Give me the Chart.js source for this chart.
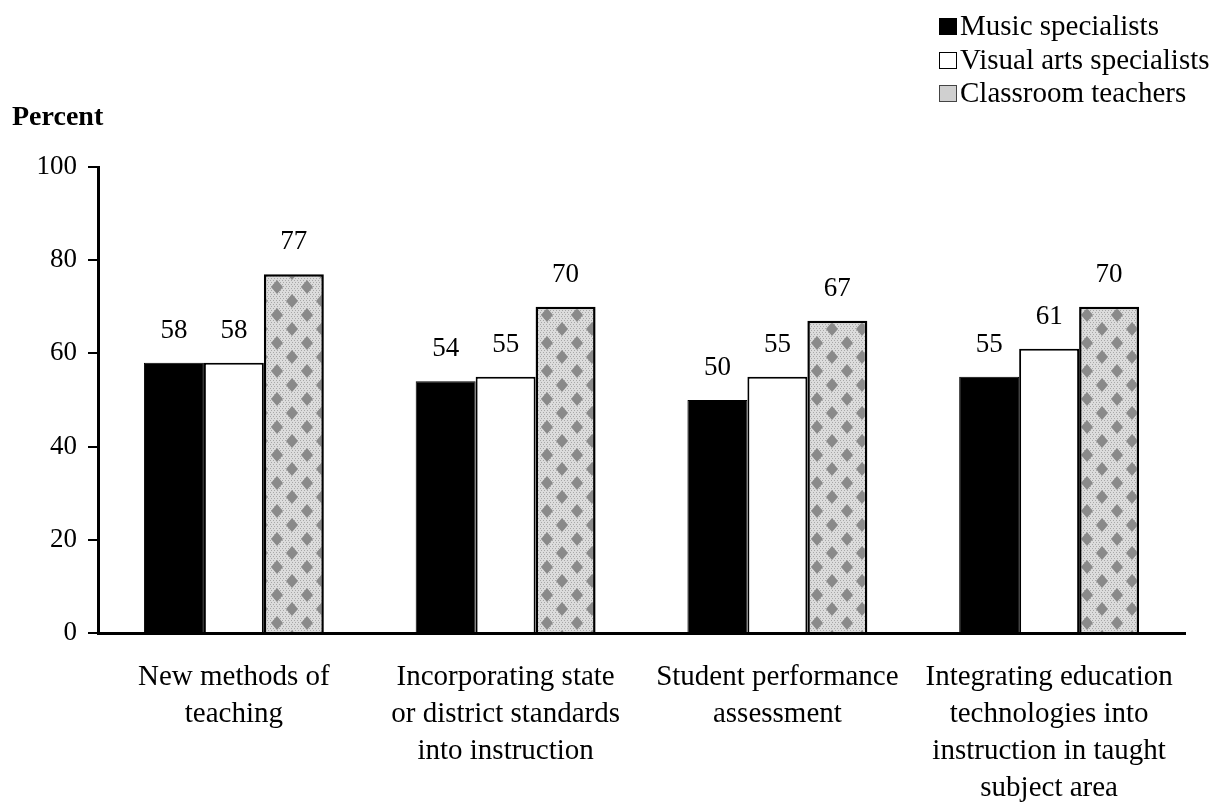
<!DOCTYPE html>
<html>
<head>
<meta charset="utf-8">
<script src="https://cdn.jsdelivr.net/npm/chart.js@4/dist/chart.umd.min.js"></script>
<style>
    html, body { margin: 0; padding: 0; background: #fff; }
    #wrap { position: relative; width: 1224px; height: 802px; font-family: "Liberation Serif", "Times New Roman", serif; color: #000; }
    #chart { position: absolute; left: 0; top: 0; }
    .yTitle { position: absolute; left: 12px; top: 99px; font-size: 28px; font-weight: bold; line-height: 33.5px; }
    .legend { position: absolute; left: 939px; top: 9px; font-size: 29px; line-height: 33.5px; }
    .legend div { white-space: nowrap; }
    .swatch { display: inline-block; width: 18px; height: 17px; margin-right: 3px; box-sizing: border-box; }
    .sw-music { background: #000; }
    .sw-visual { background: #fff; border: 1px solid #000; }
    .sw-class { background: #d0d0d0; border: 1px solid #444; }
</style>
</head>
<body>
<div id="wrap">
    <canvas id="chart" width="1224" height="802"></canvas>
    <div class="yTitle">Percent</div>
    <div class="legend">
        <div><span class="swatch sw-music"></span>Music specialists</div>
        <div><span class="swatch sw-visual"></span>Visual arts specialists</div>
        <div><span class="swatch sw-class"></span>Classroom teachers</div>
    </div>
</div>
<script>
// Chart data
const categories = [
    ['New methods of', 'teaching'],
    ['Incorporating state', 'or district standards', 'into instruction'],
    ['Student performance', 'assessment'],
    ['Integrating education', 'technologies into', 'instruction in taught', 'subject area']
];
const musicSpecialists = [58, 54, 50, 55];
const visualArtsSpecialists = [58, 55, 55, 61];
const classroomTeachers = [77, 70, 67, 70];
const yTicks = [0, 20, 40, 60, 80, 100];

const FONT = '"Liberation Serif", "Times New Roman", serif';

// Grey stippled fill for the classroom teachers bars
function makeStipple() {
    const c = document.createElement('canvas');
    c.width = 30;
    c.height = 28;
    const g = c.getContext('2d');
    g.fillStyle = '#dcdcdc';
    g.fillRect(0, 0, 30, 28);
    // fine dither
    g.fillStyle = '#a8a8a8';
    for (let y = 0; y < 28; y += 2) {
        for (let x = (y / 2) % 2; x < 30; x += 3) {
            g.fillRect(x, y, 1, 1);
        }
    }
    // diamond blobs
    g.fillStyle = '#8a8a8a';
    const blobs = [[7, 7], [22, 21]];
    blobs.forEach(([cx, cy]) => {
        g.beginPath();
        g.moveTo(cx, cy - 7);
        g.lineTo(cx + 6, cy);
        g.lineTo(cx, cy + 7);
        g.lineTo(cx - 6, cy);
        g.closePath();
        g.fill();
    });
    const ctx = document.getElementById('chart').getContext('2d');
    return ctx.createPattern(c, 'repeat');
}

// Value labels above each bar
const barValueLabels = {
    id: 'barValueLabels',
    afterDatasetsDraw(chart) {
        const ctx = chart.ctx;
        ctx.save();
        ctx.font = '27px ' + FONT;
        ctx.fillStyle = '#000';
        ctx.textAlign = 'center';
        ctx.textBaseline = 'alphabetic';
        chart.data.datasets.forEach((ds, i) => {
            chart.getDatasetMeta(i).data.forEach((bar, j) => {
                ctx.fillText(String(ds.data[j]), bar.x, bar.y - 25);
            });
        });
        ctx.restore();
    }
};

new Chart(document.getElementById('chart'), {
    type: 'bar',
    data: {
        labels: categories,
        datasets: [
            {
                label: 'Music specialists',
                data: musicSpecialists,
                backgroundColor: '#000',
                borderColor: '#000',
                borderWidth: 1
            },
            {
                label: 'Visual arts specialists',
                data: visualArtsSpecialists,
                backgroundColor: '#fff',
                borderColor: '#000',
                borderWidth: 2
            },
            {
                label: 'Classroom teachers',
                data: classroomTeachers,
                backgroundColor: makeStipple(),
                borderColor: '#000',
                borderWidth: 2.5
            }
        ]
    },
    options: {
        responsive: false,
        animation: false,
        layout: { padding: { left: 0, top: 167, right: 39, bottom: 0 } },
        datasets: {
            bar: { categoryPercentage: 0.662, barPercentage: 1, borderSkipped: 'bottom' }
        },
        plugins: {
            legend: { display: false },
            tooltip: { enabled: false }
        },
        scales: {
            x: {
                grid: { display: false, drawTicks: false, tickLength: 0 },
                border: { display: true, color: '#000', width: 3 },
                ticks: {
                    color: '#000',
                    font: { family: FONT, size: 29, lineHeight: 1.276 },
                    padding: 26,
                    maxRotation: 0,
                    autoSkip: false
                },
                afterFit(scale) { scale.height = 169; }
            },
            y: {
                min: 0,
                max: 100,
                afterBuildTicks(scale) { scale.ticks = yTicks.map(v => ({ value: v })); },
                grid: {
                    drawOnChartArea: false,
                    drawTicks: true,
                    tickLength: 10,
                    color: '#000',
                    lineWidth: 2
                },
                border: { display: true, color: '#000', width: 3 },
                ticks: {
                    color: '#000',
                    font: { family: FONT, size: 27 },
                    padding: 11
                },
                afterFit(scale) { scale.width = 98; }
            }
        }
    },
    plugins: [barValueLabels]
});
</script>
</body>
</html>
